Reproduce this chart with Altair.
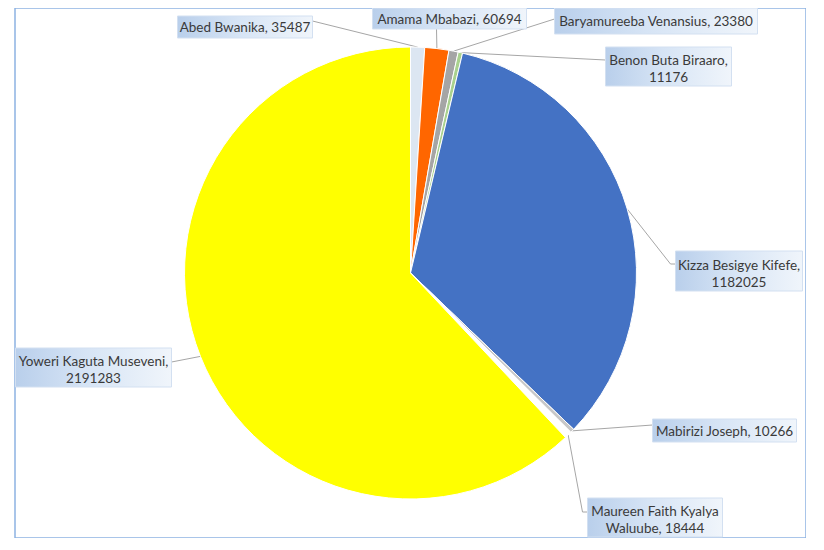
import math

import altair as alt
import pandas as pd

# candidates and votes, in the order the slices run clockwise from 12 o'clock
names = ['Abed Bwanika', 'Amama Mbabazi', 'Baryamureeba Venansius', 'Benon Buta Biraaro',
         'Kizza Besigye Kifefe', 'Mabirizi Joseph', 'Maureen Faith Kyalya Waluube',
         'Yoweri Kaguta Museveni']
votes = [35487, 60694, 23380, 11176, 1182025, 10266, 18444, 2191283]
label_text = ['Abed Bwanika, 35487', 'Amama Mbabazi, 60694', 'Baryamureeba Venansius, 23380',
              'Benon Buta Biraaro,\n11176', 'Kizza Besigye Kifefe,\n1182025',
              'Mabirizi Joseph, 10266', 'Maureen Faith Kyalya\nWaluube, 18444',
              'Yoweri Kaguta Museveni,\n2191283']
slice_colors = ['#dce6f2', '#ff6600', '#a5a5a5', '#a9d18e', '#4472c4', '#c8c8c8', '#ffffff', '#ffff00']

# layout (pixel units of the picture); the pie sits at the centre of the view
W, H = 791, 530
CX, CY, R = 411, 273, 226
X0, Y0 = CX - W / 2, CY - H / 2
LH = 17
box_x = [178, 373, 555, 606, 676, 653, 588, 16]
box_x2 = [313, 527, 758, 732, 803, 797, 723, 172]
box_y = [16, 8, 8, 47, 251, 419, 498, 348]
box_y2 = [38, 29, 34, 86, 291, 442, 537, 387]
# where the leader meets the box, and an optional elbow
anchor = [(313, 21), (437, 29), (555, 19), (606, 60), (676, 264), (653, 425), (588, 512), (172, 362)]
elbow = [None, None, None, None, (671, 264), None, (583, 512), None]

pie = pd.DataFrame({'name': names, 'votes': votes, 'idx': range(len(names))})

total = sum(votes)
lines = []
cum = 0
for i, v in enumerate(votes):
    a = 2 * math.pi * (cum + v / 2) / total
    cum += v
    pts = [anchor[i]]
    if elbow[i]:
        pts.append(elbow[i])
    pts.append((CX + R * math.sin(a), CY - R * math.cos(a)))
    for k, (px, py) in enumerate(pts):
        lines.append({'name': names[i], 'k': k, 'px': px, 'py': py})
lines = pd.DataFrame(lines)

boxes = pd.DataFrame({'name': names, 'label': label_text, 'x': box_x, 'x2': box_x2,
                      'y': box_y, 'y2': box_y2})
boxes['cx'] = (boxes['x'] + boxes['x2']) / 2
nlines = boxes['label'].str.count('\n')
boxes['cy'] = (boxes['y'] + boxes['y2']) / 2 - nlines * LH / 2 + nlines * 2 + 1

xs = alt.Scale(domain=[X0, X0 + W], nice=False, zero=False)
ys = alt.Scale(domain=[Y0, Y0 + H], nice=False, zero=False, reverse=True)

arcs = alt.Chart(pie).mark_arc(radius=R, stroke='white', strokeWidth=1).encode(
    theta=alt.Theta('votes:Q', stack=True),
    order=alt.Order('idx:Q'),
    color=alt.Color('name:N', scale=alt.Scale(domain=names, range=slice_colors), legend=None),
)

leaders = alt.Chart(lines).mark_line(color='#a6a6a6', strokeWidth=1).encode(
    x=alt.X('px:Q', scale=xs, axis=None),
    y=alt.Y('py:Q', scale=ys, axis=None),
    detail='name:N',
    order='k:Q',
)

grad = alt.LinearGradient(
    gradient='linear', x1=0, y1=0, x2=1, y2=0,
    stops=[alt.GradientStop(color='#b9cfeb', offset=0),
           alt.GradientStop(color='#d6e4f5', offset=0.45),
           alt.GradientStop(color='#f0f5fb', offset=1)],
)

shadow = alt.Chart(boxes[boxes['name'] == 'Kizza Besigye Kifefe']).mark_rect(
    color='#7f7f7f', opacity=0.45, xOffset=3, yOffset=3
).encode(
    x=alt.X('x:Q', scale=xs, axis=None), x2='x2:Q',
    y=alt.Y('y:Q', scale=ys, axis=None), y2='y2:Q',
)

rects = alt.Chart(boxes).mark_rect(fill=grad, stroke='#d3e0f1', strokeWidth=1).encode(
    x=alt.X('x:Q', scale=xs, axis=None), x2='x2:Q',
    y=alt.Y('y:Q', scale=ys, axis=None), y2='y2:Q',
)

texts = alt.Chart(boxes).mark_text(
    font='Lato', fontSize=13.5, color='#3a3a3a', lineBreak='\n', lineHeight=LH,
    align='center', baseline='middle'
).encode(
    x=alt.X('cx:Q', scale=xs, axis=None),
    y=alt.Y('cy:Q', scale=ys, axis=None),
    text='label:N',
)

chart = alt.layer(leaders, arcs, shadow, rects, texts).properties(
    width=W, height=H,
    padding={'left': 7, 'top': 0, 'right': 0, 'bottom': 0},
    autosize=alt.AutoSizeParams(type='none'),
).configure_view(stroke='#8db3e2', strokeWidth=1.5)

chart.save("out.html", embed_options={"renderer": "svg", "actions": False})
